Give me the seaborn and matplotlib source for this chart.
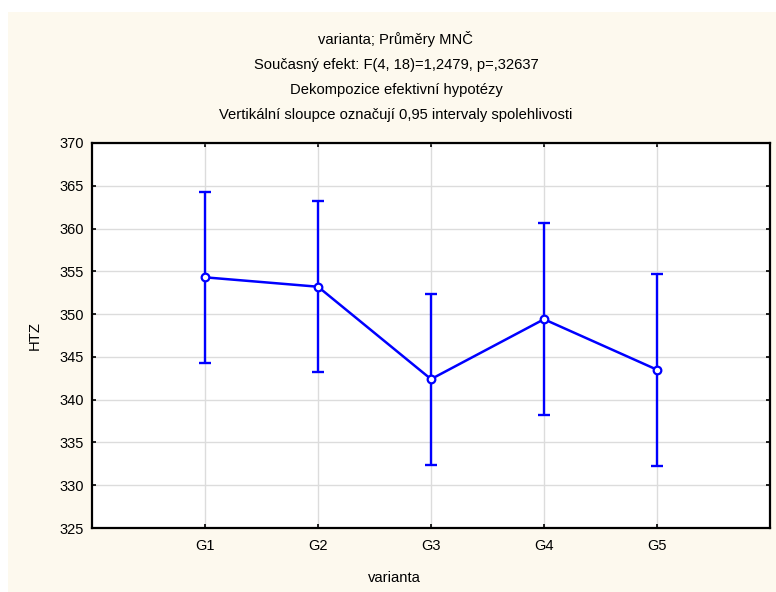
import numpy as np
import pandas as pd
import matplotlib
matplotlib.use("Agg")
import matplotlib.pyplot as plt
from matplotlib.patches import Rectangle
import seaborn as sns

categories = ["G1", "G2", "G3", "G4", "G5"]
means = [354.3, 353.2, 342.4, 349.4, 343.5]
ci_half = [10.0, 10.0, 10.0, 11.2, 11.2]
y_ticks = [325, 330, 335, 340, 345, 350, 355, 360, 365, 370]
title_lines = [
    "varianta; Průměry MNČ",
    "Současný efekt: F(4, 18)=1,2479, p=,32637",
    "Dekompozice efektivní hypotézy",
    "Vertikální sloupce označují 0,95 intervaly spolehlivosti",
]
x_label = "varianta"
y_label = "HTZ"

sns.set_style("white")
plt.rcParams["font.family"] = ["Liberation Sans", "DejaVu Sans"]
plt.rcParams["text.color"] = "black"

W, H = 776, 592
fig = plt.figure(figsize=(W / 100, H / 100), dpi=100, facecolor="white")
bg = Rectangle((8 / W, 0), 1 - 8 / W, 1 - 12 / H, transform=fig.transFigure,
               facecolor="#fdf9ee", edgecolor="none", zorder=-10)
fig.add_artist(bg)

ax = fig.add_axes([92 / W, 1 - 528 / H, (770 - 92) / W, (528 - 143) / H])
ax.set_zorder(5)
ax.set_facecolor("white")

df = pd.DataFrame({"varianta": categories, "HTZ": means})
pos = np.arange(len(categories))

ax.errorbar(pos, means, yerr=ci_half, fmt="none", ecolor="#0000ff", elinewidth=1.7,
            capsize=4.5, capthick=1.7, zorder=3)
sns.pointplot(data=df, x="varianta", y="HTZ", color="#0000ff", markers="o",
              linewidth=1.8, errorbar=None, ax=ax, zorder=4,
              markersize=5.5, markerfacecolor="white", markeredgewidth=1.6)

ax.set_xlim(-1, len(categories))
ax.set_ylim(y_ticks[0], y_ticks[-1])
ax.set_yticks(y_ticks)
ax.set_xticks(pos)
ax.set_xticklabels(categories)
ax.grid(True, color="#dcdcdc", linewidth=1.0)
ax.set_axisbelow(True)
for s in ax.spines.values():
    s.set_visible(True)
    s.set_color("black")
    s.set_linewidth(1.6)
ax.tick_params(axis="both", which="both", direction="in", length=3, width=1.2,
               top=True, right=True, bottom=True, left=True, labelsize=10.5, pad=6,
               colors="black", labelcolor="black")
ax.tick_params(axis="x", pad=8)
ax.set_xlabel("")
ax.set_ylabel("")

for i, t in enumerate(title_lines):
    fig.text(396 / W, 1 - (39 + i * 25.5) / H, t, ha="center", va="center",
             fontsize=10.6, color="black")
fig.text(394 / W, 1 - 578 / H, x_label, ha="center", va="center", fontsize=10.6, color="black")
fig.text(35 / W, 1 - 335 / H, y_label, ha="center", va="center", fontsize=10.6,
         rotation=90, color="black")

fig.savefig("out.png", dpi=100, facecolor=fig.get_facecolor())
